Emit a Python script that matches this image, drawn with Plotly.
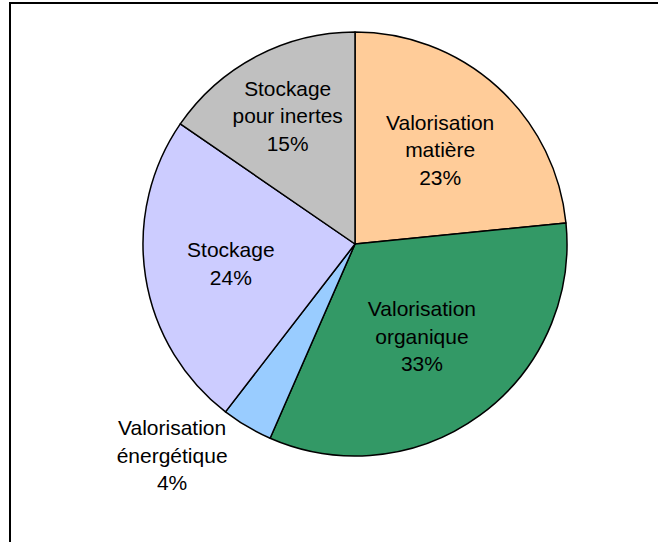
import plotly.graph_objects as go

# ── data ─────────────────────────────────────────────────────────────
labels = [
    'Valorisation<br>matière',
    'Valorisation<br>organique',
    'Valorisation<br>énergétique',
    'Stockage',
    'Stockage<br>pour inertes',
]
values = [23.4, 33.1, 3.9, 24.1, 15.4]
colors = ['#FFCC99', '#339966', '#99CCFF', '#CCCCFF', '#C0C0C0']
text_pos = ['inside', 'inside', 'outside', 'inside', 'inside']

W, H = 658, 542
cx, cy, r = 355, 244, 212

fig = go.Figure()
fig.add_trace(go.Pie(
    labels=labels,
    values=values,
    sort=False,
    direction='clockwise',
    rotation=0,
    marker=dict(colors=colors, line=dict(color='black', width=1.5)),
    texttemplate='%{label}<br>%{percent:.0%}',
    textposition=text_pos,
    insidetextorientation='horizontal',
    textfont=dict(family='Liberation Sans, Arial, sans-serif', size=21, color='black'),
    domain=dict(x=[(cx - r) / W, (cx + r) / W],
                y=[(H - cy - r) / H, (H - cy + r) / H]),
    showlegend=False,
    hoverinfo='label+percent',
))

# chart frame (only left/top edges show in the crop)
fig.add_shape(type='rect', xref='paper', yref='paper',
              x0=10 / W, x1=1.02, y0=-0.02, y1=1 - 3 / H,
              line=dict(color='black', width=2))

fig.update_layout(
    width=W, height=H,
    margin=dict(l=0, r=0, t=0, b=0),
    paper_bgcolor='white',
    plot_bgcolor='white',
)

# drop the default body margin so the figure sits at the window corner
fig.write_html('out.html', config={'displayModeBar': False},
               post_script="document.body.style.margin='0';")
